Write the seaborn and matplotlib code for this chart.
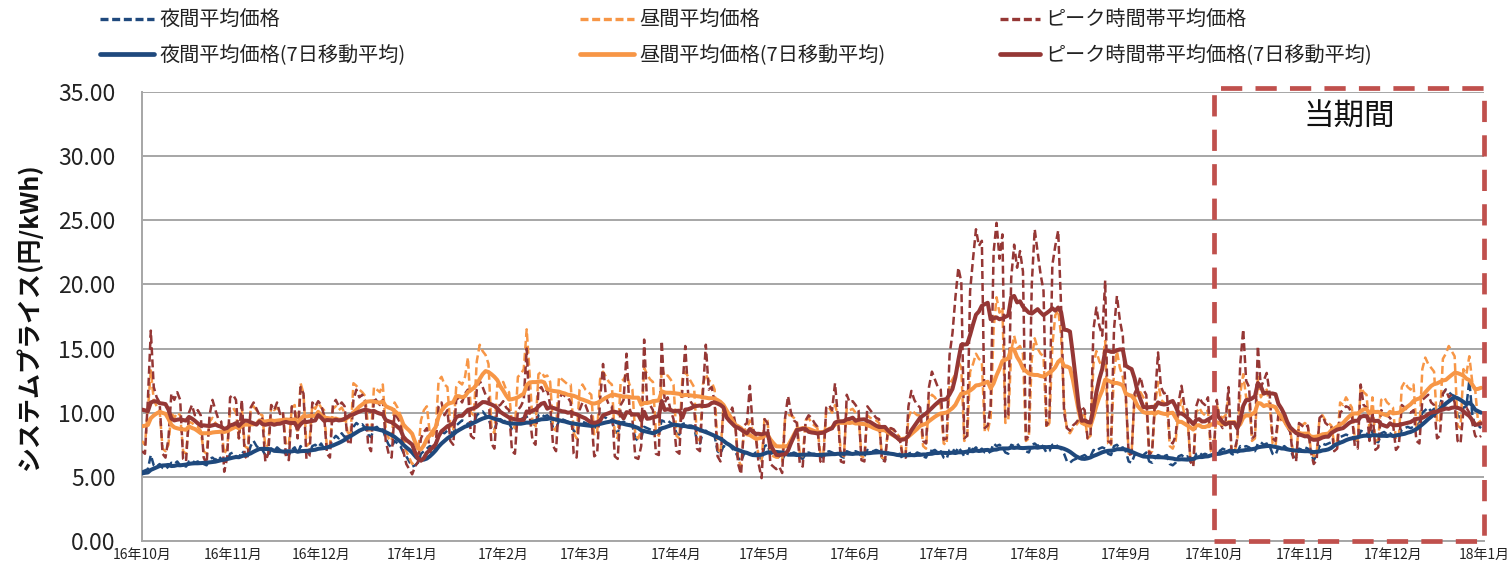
import matplotlib
matplotlib.use("Agg")
import matplotlib.pyplot as plt
import matplotlib.dates as mdates
from matplotlib.patches import Rectangle
from matplotlib.lines import Line2D
import numpy as np
import pandas as pd
import seaborn as sns

# ---------------- data (daily prices, yen/kWh) ----------------
# last six days of September 2016 (needed for the 7-day moving average at the start)
night_pre = [5.2, 5.4, 5.3, 5.2, 5.1, 5.3]
day_pre = [7.2, 9.8, 9.6, 9.5, 9.4, 9.3]
peak_pre = [7.2, 11.5, 11.6, 11.4, 11.2, 11.8]

# 2016-10-01 .. 2017-12-31, one row per week (Sat..Fri)
night_daily = [
    5.4, 5.5, 5.6, 6.7, 5.9, 5.8, 6.0,
    5.7, 5.6, 5.8, 6.1, 6.0, 6.2, 5.9,
    5.9, 5.8, 6.2, 6.3, 6.1, 6.2, 6.0,
    6.0, 5.9, 6.4, 6.5, 6.3, 6.6, 6.4,
    6.3, 6.2, 6.8, 6.9, 6.6, 6.5, 7.0,
    6.8, 6.6, 7.4, 7.8, 7.4, 7.2, 7.1,
    6.7, 6.6, 7.2, 7.0, 7.3, 7.1, 6.9,
    6.8, 6.7, 7.1, 7.3, 6.8, 7.4, 7.0,
    6.9, 6.8, 7.4, 7.5, 7.3, 7.6, 7.2,
    7.2, 7.4, 7.9, 8.2, 8.0, 8.4, 8.1,
    8.4, 8.2, 8.9, 9.2, 9.0, 9.1, 8.8,
    8.3, 8.1, 8.8, 8.9, 8.6, 8.7, 8.0,
    7.5, 7.3, 7.8, 7.6, 7.4, 6.9, 6.6,
    6.2, 5.8, 5.9, 6.1, 6.8, 7.0, 7.2,
    7.4, 7.3, 7.6, 8.2, 8.5, 8.4, 8.6,
    8.5, 8.4, 9.0, 9.2, 9.4, 9.3, 9.1,
    9.3, 9.2, 9.8, 10.0, 10.1, 9.8, 9.6,
    8.8, 8.6, 9.4, 9.5, 9.3, 9.4, 9.2,
    8.7, 8.6, 9.3, 9.5, 9.6, 9.7, 9.2,
    9.2, 9.0, 9.8, 9.9, 9.7, 9.8, 9.6,
    8.8, 8.7, 9.4, 9.5, 9.4, 9.3, 9.2,
    8.6, 8.4, 9.2, 9.3, 9.2, 9.1, 9.0,
    8.8, 9.0, 9.5, 9.7, 9.6, 9.4, 9.4,
    8.6, 8.4, 9.2, 9.3, 9.2, 9.1, 9.0,
    8.0, 7.8, 8.0, 8.9, 8.8, 8.7, 8.6,
    8.6, 8.5, 9.4, 9.3, 9.4, 9.2, 9.1,
    8.4, 8.3, 9.1, 9.2, 9.0, 9.0, 8.9,
    7.8, 7.6, 8.5, 8.6, 8.4, 8.3, 8.2,
    7.0, 6.8, 7.4, 7.3, 7.5, 7.2, 7.0,
    6.5, 6.2, 6.8, 6.9, 6.8, 6.7, 6.9,
    6.6, 6.4, 7.4, 7.5, 6.8, 6.9, 7.0,
    6.4, 6.3, 6.8, 6.9, 6.8, 6.9, 6.8,
    6.5, 6.4, 6.8, 6.9, 6.8, 6.8, 6.7,
    6.6, 6.5, 6.9, 7.0, 6.9, 6.8, 6.9,
    6.6, 6.5, 7.0, 6.9, 6.8, 7.0, 6.9,
    6.6, 6.6, 7.1, 7.0, 7.0, 7.1, 7.0,
    6.5, 6.3, 6.9, 6.8, 6.8, 6.7, 6.8,
    6.4, 6.5, 6.8, 6.9, 6.7, 6.9, 6.8,
    6.6, 6.5, 7.1, 7.0, 7.1, 6.9, 7.0,
    6.5, 6.4, 7.1, 7.2, 6.9, 7.3, 7.0,
    6.6, 6.7, 7.4, 7.1, 7.3, 7.0, 7.2,
    6.9, 6.8, 7.0, 7.6, 7.4, 7.5, 7.3,
    6.9, 6.8, 7.5, 7.4, 7.6, 7.3, 7.2,
    7.0, 6.9, 7.5, 7.6, 7.4, 7.6, 7.3,
    6.9, 7.0, 7.5, 7.6, 7.3, 7.2, 6.8,
    6.2, 6.1, 6.3, 6.4, 6.5, 6.6, 6.7,
    6.5, 6.6, 7.1, 7.0, 7.2, 7.3, 7.2,
    6.8, 6.7, 7.4, 7.5, 7.2, 7.3, 7.0,
    6.2, 6.1, 6.7, 6.8, 6.6, 6.7, 6.9,
    6.2, 6.1, 6.5, 6.7, 6.6, 6.6, 6.7,
    6.0, 5.9, 6.1, 6.6, 6.7, 6.5, 6.6,
    6.2, 6.1, 6.8, 6.9, 6.7, 6.8, 6.7,
    6.7, 6.6, 7.1, 7.0, 7.2, 7.1, 7.2,
    6.8, 6.7, 6.9, 7.4, 7.3, 7.4, 7.3,
    7.1, 7.0, 7.6, 7.7, 7.5, 7.6, 7.4,
    6.8, 6.7, 7.3, 7.2, 7.4, 7.2, 7.1,
    6.6, 6.5, 7.2, 7.1, 7.3, 7.2, 6.9,
    6.3, 6.7, 7.4, 7.6, 7.5, 7.6, 7.7,
    7.6, 7.5, 8.1, 8.2, 8.3, 8.2, 8.1,
    7.9, 7.8, 8.6, 8.5, 8.4, 8.0, 8.6,
    7.8, 7.7, 8.4, 8.5, 8.3, 8.4, 8.2,
    8.1, 8.0, 8.7, 8.8, 8.9, 8.8, 8.9,
    9.0, 9.2, 10.0, 10.2, 10.4, 10.1, 10.3,
    10.4, 10.5, 11.5, 11.8, 11.6, 11.4, 11.3,
    9.8, 9.6, 10.4, 10.5, 12.5, 9.9, 8.9,
    9.0, 8.8,
]

day_daily = [
    7.8, 7.5, 10.2, 13.3, 11.0, 10.5, 10.2,
    7.2, 7.0, 7.5, 10.0, 9.6, 10.0, 9.8,
    7.0, 6.8, 9.3, 9.2, 9.0, 8.9, 8.6,
    7.0, 6.8, 9.3, 9.6, 9.2, 9.0, 8.8,
    6.8, 7.2, 10.2, 10.4, 10.0, 8.0, 10.3,
    7.4, 7.2, 10.3, 10.5, 10.2, 9.9, 9.8,
    7.3, 7.5, 10.6, 10.2, 10.4, 10.1, 9.9,
    7.6, 7.4, 10.4, 10.6, 8.4, 12.3, 11.5,
    7.4, 7.6, 10.6, 10.3, 10.8, 10.4, 10.2,
    7.2, 7.4, 10.3, 10.5, 10.2, 10.4, 10.0,
    8.5, 8.2, 12.3, 12.1, 11.8, 11.6, 11.3,
    8.8, 8.4, 12.0, 11.8, 11.6, 12.2, 8.8,
    8.0, 7.8, 10.8, 10.4, 9.8, 8.0, 7.0,
    6.5, 6.0, 6.3, 6.8, 9.4, 10.2, 10.5,
    8.4, 8.2, 8.6, 12.5, 12.8, 12.2, 12.0,
    9.0, 8.6, 12.0, 12.4, 12.2, 12.8, 14.3,
    10.0, 9.8, 14.0, 15.3, 14.8, 14.5, 13.8,
    8.8, 8.4, 12.2, 12.0, 12.4, 11.8, 11.6,
    9.0, 8.8, 12.8, 13.0, 13.4, 16.5, 13.0,
    9.2, 8.8, 13.0, 13.2, 12.8, 12.9, 12.4,
    8.8, 8.6, 12.8, 12.6, 12.4, 12.2, 12.2,
    8.4, 8.0, 11.8, 12.2, 11.8, 11.6, 11.4,
    8.2, 8.4, 12.6, 13.2, 12.8, 12.4, 12.2,
    8.2, 8.0, 12.4, 12.6, 13.0, 12.2, 11.8,
    8.2, 8.0, 8.6, 13.5, 13.0, 12.6, 12.4,
    8.4, 8.2, 13.6, 12.8, 12.9, 12.6, 12.2,
    8.2, 8.0, 12.6, 13.2, 12.8, 12.4, 12.0,
    8.0, 7.8, 12.2, 13.0, 12.5, 12.4, 11.8,
    7.2, 6.8, 10.6, 10.2, 9.8, 9.6, 9.2,
    6.4, 5.8, 8.6, 8.8, 9.4, 8.6, 8.2,
    6.6, 6.2, 9.6, 9.4, 6.8, 6.6, 6.5,
    6.5, 6.2, 9.6, 9.8, 9.8, 9.6, 9.4,
    6.8, 6.6, 9.4, 9.6, 9.2, 9.0, 8.8,
    6.8, 6.7, 10.2, 10.4, 10.0, 10.6, 9.8,
    6.8, 6.6, 10.4, 10.2, 10.3, 10.0, 9.8,
    6.6, 6.5, 9.8, 9.6, 9.5, 9.4, 9.2,
    6.5, 6.4, 8.6, 8.8, 8.6, 8.4, 8.1,
    6.8, 6.7, 9.6, 10.2, 10.0, 9.8, 9.8,
    7.4, 7.2, 11.0, 11.4, 11.2, 10.8, 10.6,
    7.6, 7.5, 12.2, 12.6, 13.0, 14.0, 13.5,
    7.8, 8.0, 13.2, 13.8, 14.6, 14.2, 14.0,
    8.5, 8.6, 9.6, 16.5, 19.0, 17.8, 18.2,
    9.2, 9.4, 14.8, 16.0, 15.0, 15.2, 14.6,
    7.8, 8.0, 14.2, 15.8, 15.0, 14.6, 14.4,
    8.8, 9.2, 15.2, 17.6, 18.0, 16.0, 10.6,
    8.6, 8.4, 8.8, 9.0, 9.3, 9.8, 9.8,
    8.0, 8.2, 13.8, 14.8, 14.0, 13.6, 15.6,
    7.6, 7.4, 13.2, 14.8, 13.5, 12.8, 11.2,
    6.8, 6.9, 11.2, 11.4, 11.6, 11.2, 10.8,
    6.8, 7.0, 10.6, 12.4, 11.0, 10.8, 10.6,
    7.4, 7.2, 7.8, 10.2, 11.0, 9.8, 9.6,
    6.4, 6.0, 10.0, 10.4, 10.0, 9.8, 10.2,
    7.0, 6.8, 10.6, 9.8, 9.6, 9.8, 11.2,
    7.0, 6.9, 7.8, 11.5, 13.0, 11.2, 11.0,
    7.8, 8.0, 12.8, 11.2, 11.6, 11.8, 10.6,
    7.6, 7.4, 9.6, 9.4, 9.2, 9.0, 8.8,
    6.8, 6.6, 9.2, 9.0, 9.2, 9.0, 7.2,
    6.6, 6.8, 9.6, 9.8, 9.4, 9.2, 9.0,
    7.6, 7.8, 10.8, 10.6, 11.2, 10.8, 10.4,
    8.0, 7.8, 12.0, 11.6, 11.4, 8.6, 11.2,
    7.8, 7.9, 11.0, 11.2, 10.8, 10.6, 10.4,
    7.9, 8.1, 12.0, 12.4, 12.0, 11.8, 12.2,
    8.8, 8.6, 13.4, 14.3, 13.8, 13.5, 13.2,
    9.2, 9.4, 14.2, 14.6, 15.2, 14.8, 14.4,
    9.0, 8.8, 13.4, 13.0, 14.4, 12.4, 11.8,
    9.2, 9.4,
]

peak_daily = [
    7.0, 6.8, 11.0, 16.4, 12.0, 11.2, 10.8,
    6.8, 6.5, 8.0, 11.5, 11.0, 11.6, 11.0,
    6.4, 6.2, 10.0, 10.6, 9.8, 10.2, 9.8,
    6.5, 6.0, 9.8, 11.0, 10.2, 9.5, 9.3,
    5.4, 6.5, 11.2, 11.4, 11.0, 8.0, 11.0,
    6.6, 6.4, 10.4, 10.8, 10.3, 9.8, 9.5,
    6.2, 6.8, 10.6, 10.2, 10.8, 9.9, 10.1,
    6.6, 6.3, 10.5, 10.2, 8.0, 12.0, 11.5,
    6.4, 6.6, 10.8, 10.5, 10.9, 10.6, 9.8,
    6.8, 6.5, 10.6, 11.0, 10.5, 10.8, 10.5,
    7.8, 7.5, 11.0, 11.8, 11.2, 11.4, 10.9,
    7.5, 7.0, 11.2, 10.9, 10.6, 11.0, 7.8,
    6.8, 6.5, 10.0, 9.6, 9.2, 7.0, 6.0,
    5.6, 5.2, 5.8, 6.2, 8.0, 8.5, 8.8,
    7.0, 6.8, 7.5, 10.5, 10.8, 9.8, 10.2,
    7.8, 7.5, 11.0, 11.2, 10.8, 11.5, 11.8,
    8.2, 8.0, 11.8, 12.5, 12.0, 11.4, 11.2,
    7.6, 7.2, 10.5, 10.6, 10.9, 10.4, 10.2,
    7.0, 6.8, 10.2, 10.5, 11.0, 15.0, 9.8,
    7.8, 7.5, 11.8, 12.0, 11.5, 11.8, 10.6,
    7.4, 7.0, 11.0, 11.5, 11.3, 11.2, 10.8,
    6.8, 6.5, 10.2, 10.8, 10.6, 10.0, 9.8,
    6.6, 6.8, 11.0, 13.8, 11.2, 10.6, 10.5,
    6.6, 6.4, 10.6, 11.0, 14.6, 10.4, 9.5,
    6.5, 6.4, 7.4, 15.7, 10.8, 10.6, 10.2,
    6.8, 6.7, 15.6, 10.8, 11.2, 10.2, 9.5,
    7.0, 6.8, 11.8, 15.2, 11.4, 10.8, 10.5,
    7.2, 7.0, 11.5, 15.3, 11.8, 12.0, 10.8,
    6.6, 6.2, 10.2, 10.0, 9.8, 10.4, 9.2,
    6.0, 5.2, 9.0, 9.2, 12.1, 8.8, 8.2,
    6.0, 4.9, 9.5, 9.2, 6.0, 5.8, 5.6,
    5.8, 5.3, 9.6, 11.3, 10.0, 9.4, 9.2,
    6.0, 5.8, 9.4, 9.8, 9.6, 9.2, 8.9,
    6.2, 6.0, 10.4, 10.6, 10.2, 12.3, 9.6,
    6.2, 6.1, 11.4, 10.8, 10.9, 10.6, 10.2,
    6.3, 6.2, 10.5, 10.2, 9.9, 9.6, 9.5,
    6.35, 6.2, 8.6, 8.8, 8.7, 8.4, 8.0,
    6.6, 6.5, 10.5, 11.7, 11.0, 10.6, 10.4,
    7.8, 7.6, 12.0, 13.2, 12.6, 12.0, 11.8,
    7.9, 8.0, 14.5, 16.2, 19.0, 21.3, 20.2,
    8.0, 8.2, 19.5, 22.0, 24.3, 23.0, 23.4,
    8.8, 9.0, 10.5, 22.5, 24.8, 22.0, 23.9,
    9.6, 9.8, 20.5, 23.1, 21.3, 22.6, 21.0,
    7.9, 8.2, 20.0, 24.3, 22.5, 20.8, 19.5,
    9.0, 9.4, 21.5, 23.0, 24.2, 18.2, 10.0,
    8.8, 8.6, 9.0, 9.2, 9.5, 10.5, 10.2,
    8.0, 8.2, 16.5, 18.2, 16.8, 16.0, 20.3,
    7.8, 7.6, 16.5, 19.1, 17.2, 16.0, 11.5,
    6.7, 6.8, 11.5, 12.0, 12.8, 11.8, 11.4,
    6.7, 7.0, 11.2, 14.7, 12.0, 11.5, 11.6,
    7.8, 7.6, 8.2, 10.8, 12.1, 10.5, 10.2,
    6.2, 5.8, 10.5, 11.2, 10.8, 10.6, 11.2,
    7.1, 7.0, 11.0, 9.2, 8.8, 9.3, 12.0,
    7.1, 7.0, 8.0, 13.8, 16.5, 12.5, 12.0,
    8.0, 8.2, 15.2, 12.0, 12.5, 13.1, 11.5,
    8.0, 7.8, 9.9, 9.5, 9.4, 8.9, 8.5,
    6.5, 6.2, 9.2, 9.0, 8.8, 9.0, 7.0,
    6.0, 6.3, 9.6, 9.8, 9.2, 9.0, 9.0,
    7.0, 7.2, 10.0, 10.2, 10.5, 10.4, 9.9,
    7.4, 7.2, 12.2, 10.6, 10.4, 7.8, 10.2,
    7.1, 7.3, 10.2, 10.0, 9.8, 9.6, 9.2,
    7.1, 7.4, 10.6, 10.4, 10.2, 10.0, 10.2,
    7.8, 7.6, 11.0, 11.2, 11.4, 10.8, 10.6,
    8.0, 8.2, 11.5, 11.8, 11.2, 11.4, 10.8,
    7.8, 7.6, 10.2, 10.4, 10.0, 9.2, 8.2,
    8.0, 8.2,
]

series_labels = ["夜間平均価格", "昼間平均価格", "ピーク時間帯平均価格"]
ma_suffix = "(7日移動平均)"
highlight_label = "当期間"
y_label = "システムプライス(円/kWh)"

# ---------------- build frame ----------------
dates_all = pd.date_range("2016-09-25", "2017-12-31", freq="D")
df_all = pd.DataFrame({
    "date": dates_all,
    "night": night_pre + night_daily,
    "day": day_pre + day_daily,
    "peak": peak_pre + peak_daily,
})
for c in ["night", "day", "peak"]:
    df_all[c + "_ma"] = df_all[c].rolling(7, min_periods=1).mean()
df = df_all[df_all["date"] >= "2016-10-01"].reset_index(drop=True)

# ---------------- style ----------------
sns.set_style("white")
plt.rcParams["font.family"] = ["Noto Sans CJK JP", "DejaVu Sans"]

c_night = "#1F497D"
c_day = "#F79646"
c_peak = "#953735"
grid_c = "#A6A6A6"

fig = plt.figure(figsize=(15.11, 5.70), dpi=100)
ax = fig.add_axes([142 / 1511, 1 - 541 / 570, (1484 - 142) / 1511, (541 - 92) / 570])

handles = {}
dash_pat = (3.2, 1.6)
for key, col in [("night", c_night), ("day", c_day), ("peak", c_peak)]:
    sns.lineplot(data=df, x="date", y=key, ax=ax, color=col, linewidth=1.8, zorder=3)
    ln = ax.lines[-1]
    ln.set_dashes(dash_pat)
    handles[key] = ln
for key, col in [("night", c_night), ("day", c_day), ("peak", c_peak)]:
    sns.lineplot(data=df, x="date", y=key + "_ma", ax=ax, color=col, linewidth=2.9, zorder=4)
    handles[key + "_ma"] = ax.lines[-1]

# axes
x0 = mdates.date2num(pd.Timestamp("2016-10-01"))
x1 = mdates.date2num(pd.Timestamp("2018-01-01"))
ax.set_xlim(x0, x1)
ax.set_ylim(0, 35)
ax.set_yticks(np.arange(0, 35.01, 5))
ax.set_yticklabels([f"{v:.2f}" for v in np.arange(0, 35.01, 5)], fontsize=16.5, color="#222222")
month_ticks = pd.date_range("2016-10-01", "2018-01-01", freq="MS")
ax.set_xticks(mdates.date2num(month_ticks))
ax.set_xticklabels([f"{d.year % 100}年{d.month}月" for d in month_ticks], fontsize=10, color="#222222")
ax.set_xlabel("")
ax.set_ylabel(y_label, fontsize=18, fontweight="bold", color="#111111", labelpad=12)
ax.yaxis.grid(True, color=grid_c, linewidth=1.4, zorder=0)
ax.xaxis.grid(False)
ax.set_axisbelow(True)
for s in ["top", "right"]:
    ax.spines[s].set_visible(False)
for s in ["left", "bottom"]:
    ax.spines[s].set_color(grid_c)
    ax.spines[s].set_linewidth(1.4)
ax.tick_params(axis="y", direction="out", length=7, width=1.2, color=grid_c, pad=12)
ax.tick_params(axis="x", direction="out", length=5, width=1.2, color=grid_c, pad=0)

# highlight box for the current period
hx0 = mdates.date2num(pd.Timestamp("2017-10-01"))
rect = Rectangle((hx0, 0), x1 - hx0, 35.3, fill=False, edgecolor="#C0504D",
                 linewidth=3.4, linestyle=(0, (4.5, 2.8)), clip_on=False, zorder=6)
ax.add_patch(rect)
ax.text(mdates.date2num(pd.Timestamp("2017-11-16")), 33.0, highlight_label,
        fontsize=22, ha="center", va="center", color="#111111", zorder=7)

# legends: three columns
col_x = [100 / 1511, 580 / 1511, 1000 / 1511]
col_hl = [2.7, 2.7, 2.0]
for i, key in enumerate(["night", "day", "peak"]):
    h1 = Line2D([], [], color=handles[key].get_color(), linewidth=2.4, dashes=(2.4, 1.1))
    h2 = Line2D([], [], color=handles[key].get_color(), linewidth=3.4)
    leg = fig.legend([h1, h2], [series_labels[i], series_labels[i] + ma_suffix],
                     loc="upper left", bbox_to_anchor=(col_x[i], 1 - 10 / 570),
                     frameon=False, fontsize=14.5, handlelength=col_hl[i], handletextpad=0.25,
                     labelspacing=0.72, borderpad=0, borderaxespad=0)
    for t in leg.get_texts():
        t.set_color("#222222")

fig.savefig("out.png", dpi=100)
